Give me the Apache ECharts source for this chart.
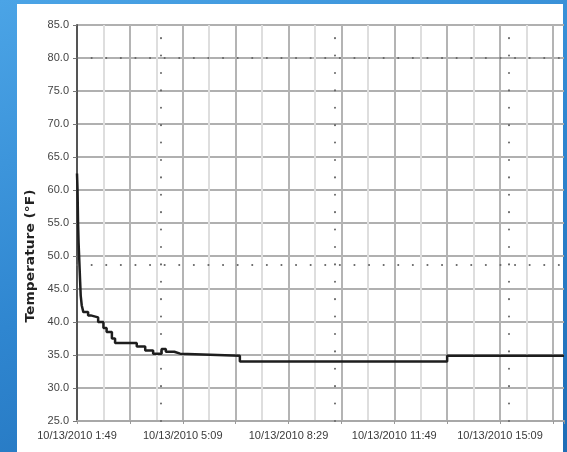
<!DOCTYPE html>
<html>
<head>
<meta charset="utf-8">
<script src="https://cdn.jsdelivr.net/npm/echarts@6/dist/echarts.min.js"></script>
<style>
  html, body { margin: 0; padding: 0; }
  body { width: 567px; height: 452px; overflow: hidden; position: relative;
         background: linear-gradient(160deg, #4ba4e6 0%, #2f86d0 50%, #1f6db6 100%); }
  #panel { position: absolute; left: 17px; top: 4px; width: 546px; height: 448px; background: #ffffff; }
  #chart { position: absolute; left: 0; top: 0; width: 567px; height: 452px; }
</style>
</head>
<body>
<div id="panel"></div>
<div id="chart"></div>
<script>
// ---- data (minutes after the first reading at 10/13/2010 1:49) ----
const dateText = '10/13/2010';
const startMinuteOfDay = 109; // 1:49
const minutes = [0, 1, 2, 3, 4, 5, 6, 7, 9, 12, 21, 26, 40, 50, 56, 66, 72, 113, 129, 144, 160, 168, 184, 195, 308, 700, 921];
const tempF   = [62.5, 60, 55, 52, 50, 48, 46, 44, 42.5, 41.5, 41.0, 40.7, 40.0, 39.1, 38.5, 37.5, 36.8, 36.3, 35.7, 35.2, 35.9, 35.5, 35.2, 34.9, 34.0, 34.9, 34.9];
const alarmLevels = [80, 48.6];
const eventMinutes = [159, 488, 817];
const yTitle = 'Temperature (°F)';

const chart = echarts.init(document.getElementById('chart'), null, { renderer: 'canvas' });

function clockLabel(v) {
  if (v % 200 !== 0) return '';
  const t = startMinuteOfDay + v;
  const h = Math.floor(t / 60) % 24;
  const m = t % 60;
  return dateText + ' ' + h + ':' + (m < 10 ? '0' + m : m);
}

const dotH = { type: [0.1, 14.5], cap: 'round', width: 2, color: '#666' };
const dotV = { type: [0.1, 17.3], cap: 'round', width: 2, color: '#666' };

const markData = [];
alarmLevels.forEach(v => markData.push({ yAxis: v, lineStyle: dotH }));
eventMinutes.forEach(v => markData.push({ xAxis: v, lineStyle: dotV }));

chart.setOption({
  backgroundColor: 'transparent',
  animation: false,
  grid: { left: 77, right: 3, top: 25, bottom: 31 },
  xAxis: {
    type: 'value',
    min: 0,
    max: 921,
    interval: 100,
    axisLine: { show: true, onZero: false, lineStyle: { color: '#a8a8a8', width: 2 } },
    axisTick: { show: true, length: 3, lineStyle: { color: '#999' } },
    axisLabel: {
      formatter: clockLabel,
      color: '#3a3a3a',
      fontFamily: 'Liberation Sans, Arial, sans-serif',
      fontSize: 11,
      margin: 9,
      showMaxLabel: false,
      hideOverlap: false
    },
    splitLine: { show: true, showMaxLine: false, lineStyle: { color: '#b4b4b4', width: 2 } },
    minorTick: { show: true, splitNumber: 2, length: 0 },
    minorSplitLine: { show: true, lineStyle: { color: '#dedede', width: 2 } }
  },
  yAxis: {
    type: 'value',
    min: 25,
    max: 85,
    interval: 5,
    axisLine: { show: true, lineStyle: { color: '#555', width: 2 } },
    axisTick: { show: true, length: 4, lineStyle: { color: '#777' } },
    axisLabel: {
      formatter: v => v.toFixed(1),
      color: '#444',
      fontFamily: 'Liberation Sans, Arial, sans-serif',
      fontSize: 11,
      margin: 8
    },
    splitLine: { show: true, lineStyle: { color: '#b0b0b0', width: 2 } }
  },
  graphic: [{
    type: 'text',
    x: 31,
    y: 256,
    rotation: Math.PI / 2,
    scaleX: 1.15,
    style: {
      text: yTitle,
      fontFamily: 'DejaVu Sans, sans-serif',
      fontWeight: 'bold',
      fontSize: 12,
      fill: '#222',
      textAlign: 'center',
      textVerticalAlign: 'middle'
    }
  }],
  series: [{
    type: 'line',
    step: 'end',
    data: minutes.map((m, i) => [m, tempF[i]]),
    symbol: 'none',
    lineStyle: { color: '#1e1e1e', width: 2.5 },
    z: 5,
    markLine: {
      silent: true,
      symbol: 'none',
      label: { show: false },
      animation: false,
      data: markData
    }
  }]
});
</script>
</body>
</html>
